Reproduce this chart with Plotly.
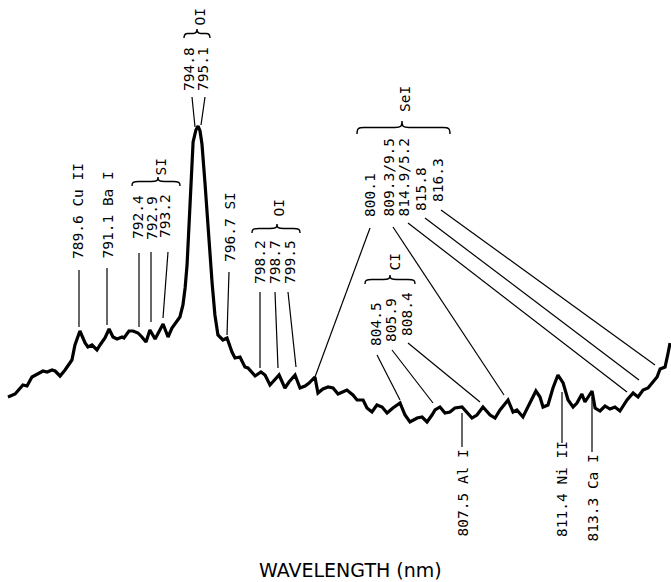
import plotly.graph_objects as go

# ---------------- data ----------------
wavelength_nm = [786.31, 786.64, 787.00, 787.19, 787.42, 787.65, 787.93, 788.12, 788.35, 788.49,
                 788.72, 788.95, 789.27, 789.41, 789.64, 789.88, 790.01, 790.20, 790.43, 790.57,
                 790.80, 790.99, 791.17, 791.36, 791.59, 791.68, 791.91, 792.10, 792.33, 792.51,
                 792.70, 792.88, 793.12, 793.49, 793.72, 793.90, 794.09, 794.27, 794.41, 794.51,
                 794.60, 794.74, 794.88, 795.01, 795.11, 795.20, 795.29, 795.43, 795.57, 795.76,
                 795.89, 796.03, 796.26, 796.45, 796.68, 796.82, 797.05, 797.28, 797.42, 797.75,
                 798.02, 798.21, 798.44, 798.67, 798.86, 799.13, 799.32, 799.60, 799.83, 800.06,
                 800.25, 800.52, 800.66, 800.89, 801.13, 801.36, 801.59, 802.00, 802.28, 802.47,
                 802.75, 802.93, 803.16, 803.39, 803.63, 803.86, 804.13, 804.46, 804.69, 804.92,
                 805.25, 805.48, 805.71, 805.94, 806.08, 806.31, 806.54, 806.77, 807.00, 807.33,
                 807.56, 807.79, 808.02, 808.30, 808.63, 808.86, 809.09, 809.46, 809.69, 809.87,
                 810.15, 810.48, 810.75, 810.94, 811.08, 811.31, 811.54, 811.77, 812.01, 812.24,
                 812.47, 812.65, 812.88, 813.02, 813.35, 813.49, 813.72, 813.95, 814.18, 814.41,
                 814.64, 814.97, 815.25, 815.48, 815.71, 815.94, 816.13, 816.36, 816.50, 816.73,
                 816.87, 816.96]
intensity = [33, 36, 45, 44, 53, 56, 59, 58, 60, 59,
             54, 60, 70, 85, 99, 87, 83, 85, 80, 85,
             92, 101, 93, 91, 93, 92, 99, 99, 97, 93,
             88, 100, 91, 106, 93, 102, 108, 113, 125, 142,
             165, 225, 288, 300, 304, 299, 286, 247, 200, 147,
             115, 95, 90, 92, 78, 72, 73, 63, 62, 54,
             58, 55, 45, 50, 55, 42, 48, 55, 42, 44,
             47, 53, 37, 41, 43, 42, 36, 40, 35, 30,
             30, 22, 18, 25, 23, 17, 22, 27, 15, 8,
             12, 13, 8, 15, 20, 23, 17, 18, 22, 23,
             18, 12, 15, 23, 15, 12, 20, 30, 18, 20,
             13, 27, 39, 33, 23, 25, 42, 55, 47, 30,
             23, 27, 36, 28, 39, 22, 19, 24, 21, 23,
             19, 30, 37, 33, 40, 42, 47, 53, 61, 63,
             77, 87]

line_labels = ["789.6 Cu II", "791.1 Ba I", "792.4", "792.9", "793.2", "794.8", "795.1",
               "796.7 SI", "798.2", "798.7", "799.5", "800.1", "809.3/9.5", "814.9/5.2",
               "815.8", "816.3", "804.5", "805.9", "808.4", "807.5 Al I", "811.4 Ni II",
               "813.3 Ca I"]
group_labels = ["SI", "OI", "OI", "SeI", "CI"]
axis_title = "WAVELENGTH (nm)"

# ---------------- layout helpers (picture pixels -> axis units) ----------------
W, H = 671, 582
X0, PXNM = 785.94, 21.6
YTOP = 430


def X(px):
    return X0 + px / PXNM


def Y(py):
    return YTOP - py


# label text placement: (centre x, bottom y) in pixels
label_pos = [(78, 260), (107, 260), (138, 240), (152, 241), (165, 239), (189, 92), (203, 92),
             (230, 263), (260, 285), (275, 285), (290, 285), (370, 218), (388, 218), (403, 218),
             (421, 212), (438, 203), (376, 347), (391, 343), (407, 337), (462, 538), (562, 538),
             (592, 543)]
# leader lines: (x1, y1, x2, y2) pixels
leader = [(79, 270, 79, 327), (107, 268, 107, 325), (139, 253, 139, 327), (151, 252, 151, 322),
          (168, 252, 163, 318), (192, 97, 195, 127), (205, 97, 201, 125), (229, 272, 227, 335),
          (260, 292, 260, 368), (275, 292, 278, 368), (288, 292, 296, 367), (370, 228, 315, 377),
          (393, 227, 504, 395), (408, 223, 627, 392), (425, 218, 639, 380), (441, 210, 655, 365),
          (377, 355, 400, 400), (392, 350, 433, 403), (408, 343, 480, 402), (462, 413, 462, 447),
          (562, 392, 562, 443), (592, 397, 592, 452)]
group_pos = [(160, 177), (199, 27), (278, 218), (405, 113), (394, 272)]
# braces: (x_left, x_right, x_tip, y_base, y_tip)
braces = [(132, 180, 158, 186, 177), (184, 210, 197, 38, 29), (252, 300, 277, 233, 224),
          (357, 450, 402, 134, 121), (365, 415, 390, 284, 275)]

LBL_FONT = dict(family="DejaVu Sans Mono", size=14.5, color="black")

fig = go.Figure()
fig.add_trace(go.Scatter(x=wavelength_nm, y=intensity, mode="lines",
                         line=dict(color="black", width=3.2, shape="linear"),
                         hoverinfo="skip", showlegend=False))

shapes = []
for (x1, y1, x2, y2) in leader:
    shapes.append(dict(type="line", xref="x", yref="y", x0=X(x1), y0=Y(y1), x1=X(x2), y1=Y(y2),
                       line=dict(color="black", width=1.2)))


def brace_path(xl, xr, xm, yb, yt):
    ym = (yb + yt) / 2.0
    rx = min(7.0, (xr - xl) / 7.0)
    pts = [("M", [(xl, yb)]),
           ("C", [(xl, ym + 1), (xl + 1, ym), (xl + rx, ym)]),
           ("L", [(xm - rx, ym)]),
           ("C", [(xm - 1, ym), (xm, ym - 1), (xm, yt)]),
           ("C", [(xm, ym - 1), (xm + 1, ym), (xm + rx, ym)]),
           ("L", [(xr - rx, ym)]),
           ("C", [(xr - 1, ym), (xr, ym + 1), (xr, yb)])]
    s = ""
    for cmd, ps in pts:
        s += cmd + " " + " ".join(f"{X(a):.4f},{Y(b):.2f}" for a, b in ps) + " "
    return s.strip()


for b in braces:
    shapes.append(dict(type="path", xref="x", yref="y", path=brace_path(*b),
                       line=dict(color="black", width=1.4)))

annotations = []
for txt, (cx, by) in zip(line_labels, label_pos):
    annotations.append(dict(text=txt, x=X(cx), y=Y(by), xref="x", yref="y", showarrow=False,
                            textangle=-90, xanchor="center", yanchor="bottom", font=LBL_FONT,
                            borderpad=0))
for txt, (cx, by) in zip(group_labels, group_pos):
    annotations.append(dict(text=txt, x=X(cx), y=Y(by), xref="x", yref="y", showarrow=False,
                            textangle=-90, xanchor="center", yanchor="bottom", font=LBL_FONT,
                            borderpad=0))
annotations.append(dict(text=axis_title, x=X(350), y=Y(570), xref="x", yref="y", showarrow=False,
                        xanchor="center", yanchor="middle",
                        font=dict(family="DejaVu Sans", size=19, color="black")))

fig.update_layout(
    width=W, height=H, margin=dict(l=0, r=0, t=0, b=0),
    paper_bgcolor="white", plot_bgcolor="white",
    xaxis=dict(range=[X(0), X(W)], visible=False, fixedrange=True),
    yaxis=dict(range=[Y(H), Y(0)], visible=False, fixedrange=True),
    shapes=shapes, annotations=annotations, showlegend=False,
)
fig.write_html("out.html", config={"displayModeBar": False, "staticPlot": True},
               post_script="document.body.style.margin='0';document.body.style.overflow='hidden';")
